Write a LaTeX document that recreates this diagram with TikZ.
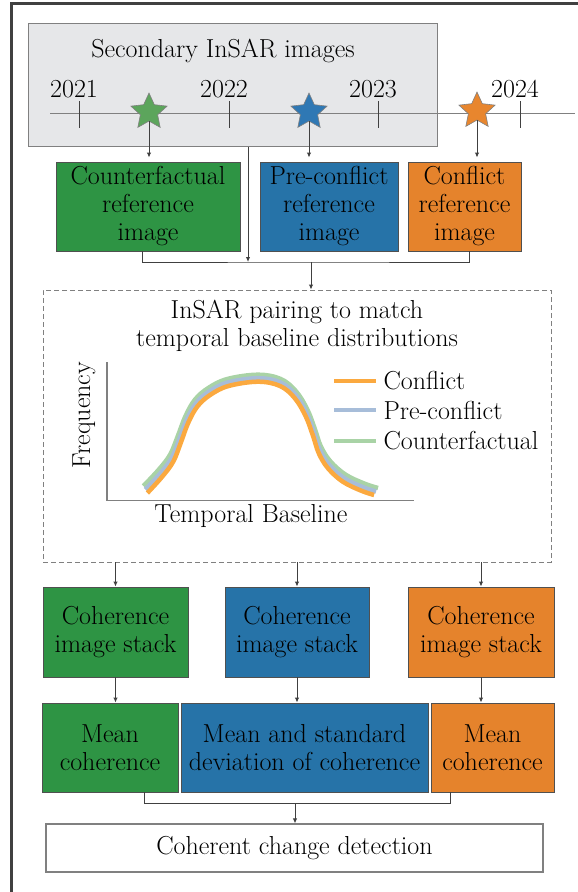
\documentclass[tikz,border=0pt]{standalone}
\usepackage{tikz}
\usetikzlibrary{arrows.meta,shapes.geometric,positioning}
\definecolor{cfGreen}{HTML}{2E9444}
\definecolor{preBlue}{HTML}{2673A8}
\definecolor{conOrange}{HTML}{E5832C}
\definecolor{starGreen}{HTML}{5CA55C}
\definecolor{starBlue}{HTML}{2F78B4}
\definecolor{starOrange}{HTML}{E8862E}
\definecolor{panelGray}{HTML}{E6E7E9}
\definecolor{edgeGray}{HTML}{505050}
\definecolor{wireGray}{HTML}{404040}
\definecolor{lineOrange}{HTML}{FBA93F}
\definecolor{lineBlue}{HTML}{A7BDD9}
\definecolor{lineGreen}{HTML}{A9D3A6}
\newcommand{\bigtext}{\fontsize{26}{28}\selectfont}
\tikzset{
  refBox/.style={
    draw=edgeGray,
    line width=0.9pt,
    align=center,
    font=\bigtext,
    inner sep=2pt,
    minimum height=89pt
  },
  wire/.style={draw=wireGray, line width=1pt},
  wireArrow/.style={wire, -{Latex[length=5pt,width=4.5pt]}},
  timeStar/.style={
    star, star points=5, star point ratio=2.1,
    minimum size=38pt, inner sep=0pt,
    draw=gray, line width=0.6pt
  },
  curveLine/.style={line width=4.5pt},
  panelLabel/.style={font=\bigtext, align=center}
}

\begin{document}
\begin{tikzpicture}[x=1pt,y=-1pt]
  \clip (0,0) rectangle (578,892);
  \draw[wireGray, line width=2.6pt] (11.5,3.5) rectangle (640,940);

  \node[draw=gray, fill=panelGray, line width=1pt, minimum width=409pt, minimum height=123pt]
    (secBox) at (232.5,84.5) {};
  \node[panelLabel] (secTitle) at (223,51) {Secondary InSAR images};
  \draw[gray, line width=1pt] (50,113) -- (575,113);
  \foreach \x/\yr in {79/2021,229/2022,378/2023,520/2024} {
    \draw[wireGray, line width=1pt] (\x,101) -- (\x,128);
    \node[panelLabel] (yr\yr) at (\x-5,89) {\yr};
  }
  \node[timeStar, fill=starGreen] (starCf) at (149,112) {};
  \node[timeStar, fill=starBlue] (starPre) at (309,112) {};
  \node[timeStar, fill=starOrange] (starCon) at (477,111) {};

  \node[refBox, fill=cfGreen, minimum width=184pt] (refCf) at (148,206.5)
    {Counterfactual\\reference\\image};
  \node[refBox, fill=preBlue, minimum width=138pt] (refPre) at (329,206.5)
    {Pre-conflict\\reference\\image};
  \node[refBox, fill=conOrange, minimum width=113pt] (refCon) at (464.5,206.5)
    {Conflict\\reference\\image};
  \foreach \n in {Cf,Pre,Con}
    \draw[wireArrow, shorten >=4pt] (star\n.south) -- (star\n.south |- ref\n.north);

  \node[draw=gray, dash pattern=on 5pt off 3pt, line width=0.9pt, minimum width=508pt, minimum height=272pt]
    (pairBox) at (297,426) {};
  \coordinate (busTop) at (311,262);
  \draw[wire] ([xshift=-6pt]refCf.south) |- (busTop) -| ([xshift=5pt]refCon.south);
  \draw[wireArrow] ([xshift=15.5pt]secBox.south) -- ([xshift=15.5pt]secBox.south |- busTop);
  \draw[wireArrow] (busTop) -- (busTop |- pairBox.north);

  \node[panelLabel] (pairTitle) at (297,326)
    {InSAR pairing to match\\temporal baseline distributions};
  \draw[gray, line width=1.4pt] (107,362) -- (107,500.5) -- (414,500.5);
  \node[panelLabel, rotate=90] (freqLabel) at (84,415) {Frequency};
  \node[panelLabel] (tbLabel) at (251,516) {Temporal Baseline};
  \foreach \col/\d in {lineGreen/7,lineBlue/3.5,lineOrange/0} {
    \draw[curveLine, \col, shift={(262,-\d)}, xscale=1+0.005*\d] plot[smooth, tension=0.6] coordinates {
      (-114.6,493) (-99.8,476.7) (-88.8,461.7) (-81.4,443.3) (-74,423.3) (-64.8,406.7)
      (-51.9,395) (-33.5,386) (-4,381.7) (18.1,386) (32.9,398.3) (43.9,416.7)
      (51.3,436.7) (56.8,453.3) (66,468.3) (80.8,481.7) (99.2,490.7) (112.1,495)};
  }
  \foreach \col/\y/\lab/\n in {lineOrange/381/Conflict/a,lineBlue/410/Pre-conflict/b,lineGreen/441/Counterfactual/c} {
    \draw[curveLine, \col] (334,\y) -- (376,\y);
    \node[panelLabel, anchor=west] (leg\n) at (380,\y) {\lab};
  }

  \node[refBox, fill=cfGreen, minimum width=145pt, minimum height=90pt] (stackCf) at (115.5,632)
    {Coherence\\image stack};
  \node[refBox, fill=preBlue, minimum width=144pt, minimum height=90pt] (stackPre) at (297,632)
    {Coherence\\image stack};
  \node[refBox, fill=conOrange, minimum width=146pt, minimum height=90pt] (stackCon) at (481,632)
    {Coherence\\image stack};
  \foreach \n in {Cf,Pre,Con}
    \draw[wireArrow] (pairBox.south -| stack\n.north) -- (stack\n.north);

  \node[refBox, fill=cfGreen, minimum width=136pt] (meanCf) at (110,747.5)
    {Mean\\coherence};
  \node[refBox, fill=preBlue, minimum width=247pt] (meanPre) at (304.5,747.5)
    {Mean and standard\\deviation of coherence};
  \node[refBox, fill=conOrange, minimum width=123pt] (meanCon) at (492.5,747.5)
    {Mean\\coherence};
  \foreach \n in {Cf,Pre,Con}
    \draw[wireArrow] (stack\n.south) -- (stack\n.south |- mean\n.north);

  \node[draw=gray, fill=white, line width=1.2pt, font=\bigtext, minimum width=497pt, minimum height=48pt]
    (ccdBox) at (294.5,848) {Coherent change detection};
  \coordinate (busLow) at (295,803);
  \draw[wire] ([xshift=34pt]meanCf.south) |- (busLow) -| ([xshift=-42.5pt]meanCon.south);
  \draw[wireArrow] (busLow) -- (busLow |- ccdBox.north);
\end{tikzpicture}
\end{document}
